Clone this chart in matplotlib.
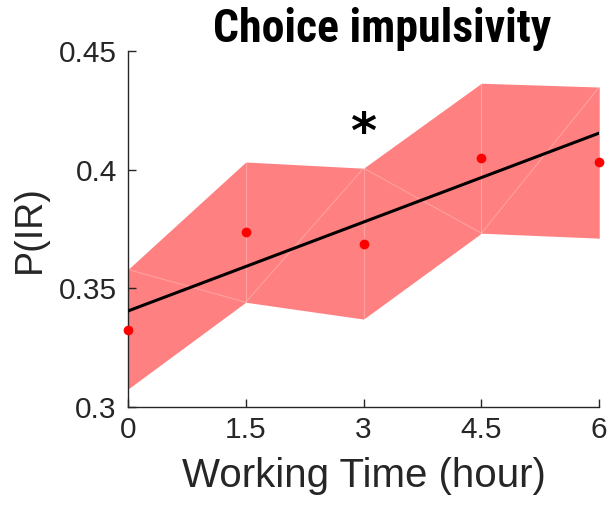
import numpy as np
import matplotlib.pyplot as plt

# Horas de trabalho e proporção de escolhas impulsivas
hours = [0, 1.5, 3, 4.5, 6]
p_ir = [0.3325, 0.3737, 0.3687, 0.4049, 0.4033]
ci_low = [0.3076, 0.3442, 0.3371, 0.3733, 0.3712]
ci_high = [0.3580, 0.4033, 0.4007, 0.4365, 0.4349]

# Reta ajustada (intercepto e inclinação)
fit_intercept = 0.3405
fit_slope = 0.0125

xticks = [0, 1.5, 3, 4.5, 6]
xtick_labels = ["0", "1.5", "3", "4.5", "6"]
yticks = [0.3, 0.35, 0.4, 0.45]
ytick_labels = ["0.3", "0.35", "0.4", "0.45"]

plt.rcParams['font.family'] = ['Liberation Sans', 'DejaVu Sans']
ink = "#262626"

fig = plt.figure(figsize=(6.09, 5.07), dpi=100)
ax = fig.add_axes([0.210, 0.197, 0.774, 0.702])

x = np.array(hours)
lo = np.array(ci_low)
hi = np.array(ci_high)

# Faixa de erro
ax.fill_between(x, lo, hi, color="#ff8080", linewidth=0, zorder=1)

# Arestas claras da malha de triângulos
for i in range(len(x)):
    ax.plot([x[i], x[i]], [lo[i], hi[i]], color="white", alpha=0.25, lw=0.8, zorder=1.5)
for i in range(len(x) - 1):
    if i % 2 == 0:
        ax.plot([x[i], x[i + 1]], [hi[i], lo[i + 1]], color="white", alpha=0.25, lw=0.8, zorder=1.5)
    else:
        ax.plot([x[i], x[i + 1]], [lo[i], hi[i + 1]], color="white", alpha=0.25, lw=0.8, zorder=1.5)

xfit = np.array([hours[0], hours[-1]])
ax.plot(xfit, fit_intercept + fit_slope * xfit, color="black", lw=2.2, zorder=3)
ax.plot(hours, p_ir, 'o', color="red", markersize=7, markeredgewidth=0, zorder=4, clip_on=False)

ax.text(3, 0.4150, "*", ha="center", va="center", fontsize=36, fontweight="bold",
        color="black", family=['DejaVu Sans'])

ax.set_xlim(0, 6)
ax.set_ylim(0.3, 0.45)
ax.set_xticks(xticks)
ax.set_xticklabels(xtick_labels)
ax.set_yticks(yticks)
ax.set_yticklabels(ytick_labels)

for s in ["top", "right"]:
    ax.spines[s].set_visible(False)
for s in ["left", "bottom"]:
    ax.spines[s].set_color(ink)
    ax.spines[s].set_linewidth(1.0)
ax.tick_params(direction="in", length=6, width=1.0, colors=ink, labelsize=21.5)
ax.tick_params(axis="x", pad=6.5)
ax.tick_params(axis="y", pad=8)

ax.set_xlabel("Working Time (hour)", fontsize=29, color=ink, labelpad=9)
ax.set_ylabel("P(IR)", fontsize=27, color=ink, labelpad=8)
ax.set_title("Choice impulsivity", fontsize=33, fontweight="bold", fontstretch="condensed",
             color="black", x=0.54,
             family=['Roboto Condensed', 'Liberation Sans Narrow', 'DejaVu Sans Condensed',
                     'Liberation Sans'], pad=4)

fig.savefig("out.png", dpi=100)
